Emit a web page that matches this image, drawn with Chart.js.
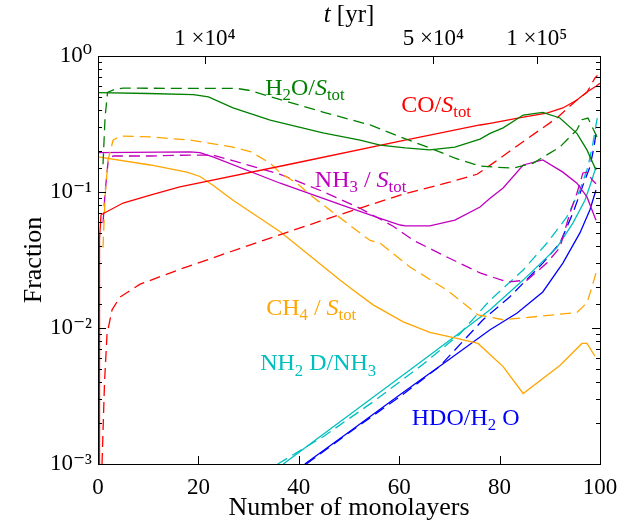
<!DOCTYPE html>
<html>
<head>
<meta charset="utf-8">
<script src="https://cdn.jsdelivr.net/npm/chart.js@4.4.1/dist/chart.umd.min.js"></script>
<style>
html, body { margin: 0; padding: 0; background: #fff; }
#wrap { width: 640px; height: 524px; }
</style>
</head>
<body>
<div id="wrap"><canvas id="chart"></canvas></div>
<script>
// [monolayers, fraction] pairs
const h2o = [[0,0.537],[10,0.53],[19,0.52],[22,0.5],[26.9,0.415],[34.3,0.338],[44.8,0.272],[52.2,0.241],[56.2,0.221],[61.2,0.211],[66.1,0.204],[71.1,0.214],[76.1,0.245],[78.1,0.27],[80.7,0.296],[84.7,0.368],[88.6,0.385],[92,0.35],[95.4,0.27],[97.4,0.204],[99.2,0.145]];
const h2oDash = [[1.0,0.16],[1.4,0.35],[1.9,0.54],[3.4,0.57],[5,0.58],[27.7,0.577],[30,0.56],[37,0.47],[44.8,0.387],[54.2,0.311],[60.2,0.254],[66.1,0.211],[71,0.178],[76.1,0.155],[79.5,0.152],[82.7,0.15],[86.7,0.163],[92,0.214],[95.4,0.286],[96.4,0.34],[97.6,0.35],[99.4,0.254]];
const co = [[0.2,0.0008],[0.3,0.045],[0.6,0.068],[5,0.083],[10.4,0.095],[16.3,0.109],[38.2,0.16],[60.2,0.237],[76.1,0.311],[78.1,0.32],[84.7,0.355],[89.4,0.38],[92.6,0.415],[95.4,0.475],[97.4,0.543],[99.2,0.6],[100,0.63]];
const coDash = [[0.8,0.001],[1.3,0.004],[1.8,0.009],[2.8,0.0136],[4.4,0.0169],[8.4,0.021],[16.3,0.027],[31.7,0.0425],[44.8,0.062],[60.2,0.095],[70,0.118],[75.5,0.135],[78.7,0.163],[86,0.254],[91.4,0.35],[95.4,0.475],[97.4,0.54],[99,0.69],[99.5,0.72]];
const ch4 = [[0,0.181],[10.4,0.158],[17.7,0.14],[20.3,0.13],[22.9,0.112],[26.9,0.087],[36.3,0.051],[48.2,0.0225],[50.8,0.019],[54.8,0.0148],[60.8,0.0111],[66.1,0.0093],[71.5,0.0084],[75.7,0.0077],[80.7,0.0052],[84.7,0.0033],[92,0.0053],[96.4,0.0077],[97.4,0.0077],[99,0.0062]];
const ch4Dash = [[1.0,0.039],[1.4,0.092],[2.0,0.172],[3.0,0.24],[4.4,0.258],[10.4,0.254],[18.3,0.241],[26.9,0.214],[30.5,0.197],[34.3,0.163],[36.3,0.138],[39.6,0.116],[42.8,0.092],[49.6,0.059],[54.2,0.044],[56.2,0.042],[62.2,0.028],[69.5,0.019],[75.7,0.0125],[80.7,0.0115],[88,0.0122],[95.4,0.013],[97.4,0.0153],[98.4,0.02],[99.4,0.027]];
const nh3 = [[0,0.195],[18.3,0.197],[20.3,0.195],[22.9,0.181],[36.3,0.116],[49.6,0.0776],[56.2,0.064],[60.2,0.0572],[61.2,0.0563],[66.1,0.0563],[71.1,0.0622],[76.1,0.0776],[78.1,0.09],[80.7,0.107],[84.7,0.158],[88.6,0.172],[92.6,0.14],[95.4,0.116],[97.4,0.092],[99.2,0.062]];
const nh3Dash = [[1.0,0.059],[1.4,0.098],[2.0,0.166],[3.0,0.184],[10.4,0.184],[18.3,0.187],[22.9,0.187],[36.3,0.135],[44.2,0.103],[52.2,0.076],[58.8,0.056],[62.9,0.044],[69.7,0.033],[76.1,0.0254],[81.5,0.0218],[85.5,0.0225],[89.4,0.03],[92,0.039],[94,0.07],[95.4,0.098],[96.6,0.138],[97.6,0.14],[98.4,0.123],[99.2,0.115]];
const nh2d = [[36.9,0.001],[45,0.00167],[55,0.00314],[65,0.0059],[72,0.0092],[78.1,0.0136],[84.7,0.0225],[91.4,0.039],[94.6,0.059],[97,0.087],[98.4,0.123],[99.2,0.153]];
const nh2dDash = [[35.8,0.001],[45,0.0016],[55,0.0029],[65,0.0055],[72,0.009],[78.1,0.016],[84.7,0.0267],[89.4,0.042],[93.4,0.0655],[96,0.1035],[97.6,0.153],[98.6,0.229],[99.2,0.31],[99.5,0.356]];
const hdo = [[41.2,0.001],[50,0.00172],[60,0.0032],[70,0.0059],[78.1,0.0097],[83.5,0.0129],[88.6,0.0184],[92.6,0.03],[96,0.05],[98,0.074],[99.2,0.1035]];
const hdoDash = [[41.5,0.001],[50,0.0017],[60,0.0031],[68,0.0052],[76.7,0.0115],[82,0.0169],[88.6,0.03],[92,0.042],[94.6,0.07],[96.4,0.107],[98,0.153],[98.8,0.214],[99.2,0.27]];

// top axis: time in years at given monolayer positions
const tPos = [21.3, 66.8, 87.4];
const tLabels = ['1 \u00d710\u2074', '5 \u00d710\u2074', '1 \u00d710\u2075'];

const xTicks = [0, 20, 40, 60, 80, 100];
const yLabels = { '1': '10\u2070', '0.1': '10\u207b\u00b9', '0.01': '10\u207b\u00b2', '0.001': '10\u207b\u00b3' };

const FONT = '"Liberation Serif", "DejaVu Serif", serif';
const GREEN = '#008000', RED = '#ff0000', ORANGE = '#ffa500', MAG = '#bf00bf', CYAN = '#00bfbf', BLUE = '#0000ff';

// in-plot labels, position in data coords (left edge, baseline)
const notes = [
    { x: 33.3, y: 0.516, color: GREEN, parts: [['H','r'],['2','b'],['O/','r'],['S','i'],['tot','b']] },
    { x: 60.4, y: 0.387, color: RED, parts: [['CO/','r'],['S','i'],['tot','b']] },
    { x: 43.2, y: 0.109, color: MAG, parts: [['NH','r'],['3','b'],[' / ','r'],['S','i'],['tot','b']] },
    { x: 33.5, y: 0.0125, color: ORANGE, parts: [['CH','r'],['4','b'],[' / ','r'],['S','i'],['tot','b']] },
    { x: 32.3, y: 0.00489, color: CYAN, parts: [['NH','r'],['2','b'],[' D/NH','r'],['3','b']] },
    { x: 62.5, y: 0.00194, color: BLUE, parts: [['HDO/H','r'],['2','b'],[' O','r']] }
];

function series(pts, color, dashed) {
    return {
        data: pts.map(p => ({ x: p[0], y: p[1] })),
        borderColor: color,
        borderWidth: 1.3,
        borderDash: dashed ? [11, 6] : [],
        pointRadius: 0,
        tension: 0,
        fill: false
    };
}

function isDecade(v) {
    const l = Math.log10(v);
    return Math.abs(l - Math.round(l)) < 1e-6;
}

function drawRich(ctx, parts, x, y, size) {
    let cx = x;
    ctx.textBaseline = 'alphabetic';
    ctx.textAlign = 'left';
    for (const [t, k] of parts) {
        const s = k === 'b' ? size * 0.7 : size;
        ctx.font = (k === 'i' ? 'italic ' : '') + s + 'px ' + FONT;
        ctx.fillText(t, cx, y + (k === 'b' ? size * 0.22 : 0));
        cx += ctx.measureText(t).width;
    }
}

function richWidth(ctx, parts, size) {
    let w = 0;
    for (const [t, k] of parts) {
        const s = k === 'b' ? size * 0.7 : size;
        ctx.font = (k === 'i' ? 'italic ' : '') + s + 'px ' + FONT;
        w += ctx.measureText(t).width;
    }
    return w;
}

const framePlugin = {
    id: 'frame',
    afterDraw(chart) {
        const ctx = chart.ctx;
        const a = chart.chartArea;
        const xs = chart.scales.x, x2 = chart.scales.x2, ys = chart.scales.y;
        ctx.save();
        ctx.strokeStyle = '#000';
        ctx.lineWidth = 1;
        ctx.beginPath();
        xs.ticks.forEach(t => {
            const px = Math.round(xs.getPixelForValue(t.value)) + 0.5;
            ctx.moveTo(px, a.bottom); ctx.lineTo(px, a.bottom - 8);
        });
        x2.ticks.forEach(t => {
            const px = Math.round(x2.getPixelForValue(t.value)) + 0.5;
            ctx.moveTo(px, a.top); ctx.lineTo(px, a.top + 8);
        });
        ys.ticks.forEach(t => {
            const py = Math.round(ys.getPixelForValue(t.value)) + 0.5;
            const len = isDecade(t.value) ? 8 : 4;
            ctx.moveTo(a.left, py); ctx.lineTo(a.left + len, py);
            ctx.moveTo(a.right, py); ctx.lineTo(a.right - len, py);
        });
        ctx.stroke();
        ctx.strokeRect(Math.round(a.left) + 0.5, Math.round(a.top) + 0.5, Math.round(a.right - a.left), Math.round(a.bottom - a.top));

        // labels next to the curves
        notes.forEach(n => {
            ctx.fillStyle = n.color;
            drawRich(ctx, n.parts, xs.getPixelForValue(n.x), ys.getPixelForValue(n.y), 24);
        });

        // top axis title
        const tParts = [['t','i'],[' [yr]','r']];
        const w = richWidth(ctx, tParts, 25);
        ctx.fillStyle = '#000';
        drawRich(ctx, tParts, (a.left + a.right) / 2 - w / 2, 22, 25);
        ctx.restore();
    }
};

const ctx = document.getElementById('chart').getContext('2d');
new Chart(ctx, {
    type: 'line',
    data: {
        datasets: [
            series(h2o, GREEN, false), series(h2oDash, GREEN, true),
            series(co, RED, false), series(coDash, RED, true),
            series(ch4, ORANGE, false), series(ch4Dash, ORANGE, true),
            series(nh3, MAG, false), series(nh3Dash, MAG, true),
            series(nh2d, CYAN, false), series(nh2dDash, CYAN, true),
            series(hdo, BLUE, false), series(hdoDash, BLUE, true)
        ]
    },
    options: {
        responsive: true,
        maintainAspectRatio: false,
        animation: false,
        layout: { padding: { left: 0, right: 40, top: 0, bottom: 0 } },
        plugins: { legend: { display: false }, tooltip: { enabled: false } },
        scales: {
            x: {
                type: 'linear', position: 'bottom', min: 0, max: 100,
                afterBuildTicks: s => { s.ticks = xTicks.map(v => ({ value: v })); },
                afterFit: s => { s.height = 60; },
                grid: { display: false, drawTicks: false },
                border: { display: false },
                ticks: { color: '#000', font: { family: FONT, size: 23 }, padding: 10, maxRotation: 0, autoSkip: false },
                title: { display: true, text: 'Number of monolayers', color: '#000', font: { family: FONT, size: 26 }, padding: { top: 0, bottom: 0 } }
            },
            x2: {
                type: 'linear', position: 'top', min: 0, max: 100,
                afterBuildTicks: s => { s.ticks = tPos.map(v => ({ value: v })); },
                afterFit: s => { s.height = 56; },
                grid: { display: false, drawTicks: false },
                border: { display: false },
                ticks: { color: '#000', font: { family: FONT, size: 23 }, padding: 3, maxRotation: 0, autoSkip: false,
                    callback: (v, i) => tLabels[i] }
            },
            y: {
                type: 'logarithmic', min: 0.001, max: 1,
                afterFit: s => { s.width = 98; },
                grid: { display: false, drawTicks: false },
                border: { display: false },
                ticks: { color: '#000', font: { family: FONT, size: 23 }, padding: 6, autoSkip: false,
                    callback: v => isDecade(v) ? (yLabels[String(+v.toPrecision(3))] || '') : '' },
                title: { display: true, text: 'Fraction', color: '#000', font: { family: FONT, size: 26 }, padding: { top: 19, bottom: 0 } }
            }
        }
    },
    plugins: [framePlugin]
});
</script>
</body>
</html>
